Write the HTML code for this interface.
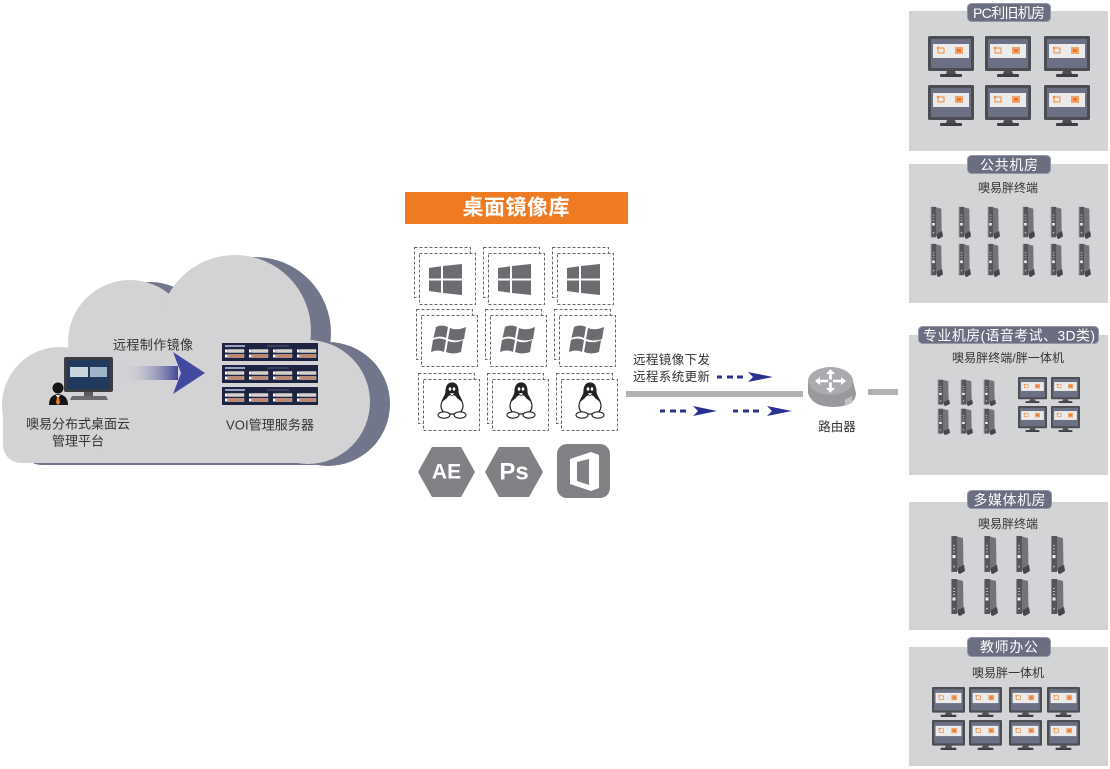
<!DOCTYPE html>
<html><head><meta charset="utf-8"><style>
html,body{margin:0;padding:0;background:#fff;}
svg{display:block;}
text{font-family:"Liberation Sans","Noto Sans CJK SC",sans-serif;}
</style></head><body>
<svg width="1110" height="769" viewBox="0 0 1110 769" xmlns="http://www.w3.org/2000/svg">
<defs>
  <g id="cloud">
    <circle cx="60" cy="405" r="58"/>
    <circle cx="130" cy="342" r="62"/>
    <circle cx="235" cy="331" r="76"/>
    <circle cx="308" cy="402" r="62"/>
    <rect x="70" y="360" width="235" height="103"/>
    <rect x="3" y="380" width="100" height="83" rx="18"/>
  </g>
  <symbol id="mon" viewBox="0 0 46 41" preserveAspectRatio="none">
    <rect x="0" y="0" width="46" height="35" rx="1.5" fill="#4c4d52"/>
    <rect x="3" y="3" width="40" height="29" fill="#6c7084"/>
    <rect x="5" y="8" width="36" height="14" fill="#ebebeb"/>
    <rect x="10" y="12" width="6" height="5" fill="none" stroke="#ef8a3c" stroke-width="1"/>
    <circle cx="10" cy="12" r="1.2" fill="#ef8a3c"/>
    <rect x="27" y="11" width="8" height="7" fill="#f0a36a"/>
    <rect x="29" y="13" width="4" height="3" fill="#e9772c"/>
    <polygon points="19,35 27,35 28,38 18,38" fill="#4c4d52"/>
    <rect x="12" y="38" width="22" height="3" rx="1" fill="#3e3f44"/>
  </symbol>
  <symbol id="tower" viewBox="0 0 15 38" preserveAspectRatio="none">
    <polygon points="5,1 13,3 13.5,32 5,36" fill="#737478"/>
    <rect x="1" y="1" width="6" height="35" fill="#55565a"/>
    <rect x="1" y="1" width="1" height="35" fill="#8a8b8f"/>
    <polygon points="8,32 14,29 15,35 10,38 8,37" fill="#46474b"/>
    <rect x="3" y="10" width="2" height="1" fill="#bbb"/>
    <rect x="3" y="13" width="2" height="1" fill="#bbb"/>
    <rect x="3" y="16" width="2" height="1" fill="#bbb"/>
    <rect x="2.5" y="19.5" width="3" height="3" fill="#eee"/>
    <rect x="3.3" y="30" width="1.5" height="1.5" fill="#ccc"/>
  </symbol>
  <g id="rack">
    <rect x="0" y="0" width="96" height="18" fill="#1e2342"/>
    <rect x="3" y="2" width="20" height="2" fill="#9aa0c0"/>
    <rect x="45" y="2" width="22" height="2" fill="#3a3f5c"/>
    <g id="bays">
      <rect x="3" y="6.5" width="2.5" height="3" fill="#fff"/>
      <rect x="6" y="6.5" width="16" height="3" fill="#d8cfc9" stroke="#eee" stroke-width="0.4"/>
      <rect x="3" y="11.5" width="2.5" height="3" fill="#fff"/>
      <rect x="6" y="11.5" width="16" height="3" fill="#c9835e" stroke="#eee" stroke-width="0.4"/>
    </g>
    <use href="#bays" x="24"/>
    <use href="#bays" x="48"/>
    <use href="#bays" x="72"/>
  </g>
  <g id="tile">
    <rect x="0.5" y="0.5" width="56" height="50" fill="#fff" stroke="#666" stroke-width="1" stroke-dasharray="3,2"/>
    <rect x="5.5" y="6.5" width="56" height="51" fill="#fff" stroke="#666" stroke-width="1" stroke-dasharray="3,2"/>
  </g>
  <g id="win10">
    <polygon points="0,4 12,2.3 12,14.5 0,14.5" fill="#6b6c70"/>
    <polygon points="14,2 33,0 33,14.5 14,14.5" fill="#6b6c70"/>
    <polygon points="0,16.5 12,16.5 12,28.7 0,27" fill="#6b6c70"/>
    <polygon points="14,16.5 33,16.5 33,31 14,29" fill="#6b6c70"/>
  </g>
  <g id="win7" fill="#6b6c70">
    <path d="M4,2 Q10,-1 16,2 L14,13 Q8,10 1.5,13 Z"/>
    <path d="M18,3 Q25,6 34,2 L32,14 Q24,17 16,14 Z"/>
    <path d="M1,15 Q7,12 14,15 L12,27 Q6,24 -1,27 Z"/>
    <path d="M16,16 Q23,19 31,15 L29,27 Q21,30 14,27 Z"/>
  </g>
  <g id="tux">
    <path d="M0,-17 C-5,-17 -6,-12 -6,-8 C-6,-4 -11,0 -11,6 C-11,10 -8,13 -6,14 L6,14 C8,13 11,10 11,6 C11,0 6,-4 6,-8 C6,-12 5,-17 0,-17 Z" fill="#fff" stroke="#222" stroke-width="1.2"/>
    <path d="M0,-17 C-5,-17 -6,-12 -6,-8 C-6,-5 -8,-2 -10,2 L-5,-2 C-3,-6 3,-6 5,-2 L10,2 C8,-2 6,-5 6,-8 C6,-12 5,-17 0,-17 Z" fill="#222"/>
    <ellipse cx="-2" cy="-11" rx="1.3" ry="1.8" fill="#fff"/>
    <ellipse cx="2" cy="-11" rx="1.3" ry="1.8" fill="#fff"/>
    <path d="M-3,-7 L3,-7 L0,-4 Z" fill="#fff" stroke="#222" stroke-width="0.6"/>
    <ellipse cx="-8" cy="15" rx="6" ry="3.2" fill="#fff" stroke="#222" stroke-width="1.1"/>
    <ellipse cx="8" cy="15" rx="6" ry="3.2" fill="#fff" stroke="#222" stroke-width="1.1"/>
  </g>
  <linearGradient id="ag" x1="0" x2="1" y1="0" y2="0">
    <stop offset="0" stop-color="#d3d3d6" stop-opacity="0"/>
    <stop offset="1" stop-color="#434895"/>
  </linearGradient>
</defs>

<!-- Cloud -->
<use href="#cloud" x="20" y="2" fill="#72768a"/>
<use href="#cloud" fill="#d3d3d5"/>

<!-- management monitor -->
<rect x="64" y="357" width="49" height="35" rx="2" fill="#3c3d42"/>
<rect x="67" y="360" width="43" height="29" fill="#1f3a5c"/>
<rect x="70" y="367" width="18" height="10" fill="#c9d4de"/>
<rect x="90" y="367" width="17" height="10" fill="#9fb4c8"/>
<rect x="84" y="392" width="9" height="4" fill="#5a5b60"/>
<polygon points="72,396 106,396 108,400 70,400" fill="#6a6b70"/>
<circle cx="58" cy="388" r="5.5" fill="#151515"/>
<path d="M49,405 Q49,395 58,394 Q68,395 68,405 Z" fill="#151515"/>
<polygon points="55.5,395 60.5,395 58,398" fill="#eee"/>
<polygon points="57,397 59,397 60,403 58,405 56,403" fill="#f07d1f"/>

<!-- gradient arrow -->
<rect x="122" y="366" width="56" height="14" fill="url(#ag)"/>
<polygon points="173,352 205,373 173,394 181,373" fill="#4449a0"/>
<text x="153" y="345" font-size="13" fill="#333" text-anchor="middle" dominant-baseline="central" textLength="80">远程制作镜像</text>

<!-- servers -->
<use href="#rack" x="222" y="343"/>
<use href="#rack" x="222" y="365"/>
<use href="#rack" x="222" y="387"/>
<text x="270" y="425" font-size="13" fill="#333" text-anchor="middle" dominant-baseline="central" textLength="88">VOI管理服务器</text>
<text x="78" y="424" font-size="13" fill="#333" text-anchor="middle" dominant-baseline="central" textLength="104">噢易分布式桌面云</text>
<text x="78" y="441" font-size="13" fill="#333" text-anchor="middle" dominant-baseline="central" textLength="52">管理平台</text>

<!-- image library -->
<rect x="405" y="192" width="223" height="32" fill="#ee7a22"/>
<text x="516" y="208" font-size="21" font-weight="bold" fill="#fff" text-anchor="middle" dominant-baseline="central" textLength="107">桌面镜像库</text>

<use href="#tile" x="414" y="247"/>
<use href="#tile" x="483" y="247"/>
<use href="#tile" x="552" y="247"/>
<use href="#tile" x="416" y="309"/>
<use href="#tile" x="485" y="309"/>
<use href="#tile" x="554" y="309"/>
<use href="#tile" x="418" y="373"/>
<use href="#tile" x="487" y="373"/>
<use href="#tile" x="556" y="373"/>

<use href="#win10" x="429" y="264"/>
<use href="#win10" x="498" y="264"/>
<use href="#win10" x="567" y="264"/>
<use href="#win7" x="432" y="325"/>
<use href="#win7" x="501" y="325"/>
<use href="#win7" x="570" y="325"/>
<use href="#tux" x="452" y="400"/>
<use href="#tux" x="521" y="400"/>
<use href="#tux" x="590" y="400"/>

<!-- app icons -->
<polygon points="418,472 432,447 461,447 475,472 461,497 432,497" fill="#808184"/>
<text x="446.5" y="472" font-size="21" font-weight="bold" fill="#fff" text-anchor="middle" dominant-baseline="central">AE</text>
<polygon points="485,472 499,447 529,447 543,472 529,497 499,497" fill="#808184"/>
<text x="514" y="472" font-size="24" font-weight="bold" fill="#fff" text-anchor="middle" dominant-baseline="central">Ps</text>
<rect x="557" y="444" width="53" height="54" rx="10" fill="#808184"/>
<polygon points="570,459 591,452 599,455 599,488 591,491 570,484" fill="#fff"/>
<polygon points="577,462 589,459 589,485 577,481" fill="#808184"/>

<!-- connectors -->
<rect x="626" y="391" width="177" height="6" fill="#b1b2b4"/>
<rect x="868" y="389" width="30" height="6" fill="#b1b2b4"/>
<text x="633" y="360" font-size="12.5" fill="#333" dominant-baseline="central" textLength="77">远程镜像下发</text>
<text x="633" y="377" font-size="12.5" fill="#333" dominant-baseline="central" textLength="77">远程系统更新</text>
<g fill="#2b3190">
  <rect x="717" y="375.5" width="5" height="3"/><rect x="727" y="375.5" width="6" height="3"/><rect x="737" y="375.5" width="6" height="3"/>
  <polygon points="748,372 773,377 748,382 753,377"/>
  <rect x="660" y="409.5" width="5" height="3"/><rect x="670" y="409.5" width="6" height="3"/><rect x="680" y="409.5" width="6" height="3"/>
  <polygon points="693,406 717,411 693,416 698,411"/>
  <rect x="733" y="409.5" width="5" height="3"/><rect x="743" y="409.5" width="6" height="3"/><rect x="753" y="409.5" width="6" height="3"/>
  <polygon points="767,406 792,411 767,416 772,411"/>
</g>

<!-- router -->
<path d="M808,381 L808,393 Q812,407 834,407 Q856,406 856,393 L853,381 Z" fill="#97999c"/>
<path d="M845,400 L852,396 L852,403 L845,406 Z" fill="#c2c3c5"/>
<ellipse cx="830.5" cy="381" rx="22.5" ry="14" fill="#a9abae"/>
<g fill="#fff">
  <polygon points="830.5,369 826,374 829,374 829,379.5 831.9,379.5 831.9,374 835,374"/>
  <polygon points="830.5,393 826,388 829,388 829,382.5 831.9,382.5 831.9,388 835,388"/>
  <polygon points="815,381 820,377 820,379.7 828,379.7 828,382.3 820,382.3 820,385"/>
  <polygon points="846,381 841,377 841,379.7 833,379.7 833,382.3 841,382.3 841,385"/>
</g>
<text x="837" y="427" font-size="12.5" fill="#333" text-anchor="middle" dominant-baseline="central">路由器</text>

<!-- rooms -->
<g fill="#d3d4d6">
  <rect x="909" y="11" width="199" height="140"/>
  <rect x="909" y="164" width="199" height="139"/>
  <rect x="909" y="335" width="199" height="140"/>
  <rect x="909" y="502" width="199" height="128"/>
  <rect x="909" y="647" width="199" height="119"/>
</g>
<g fill="#6b6e80" stroke="#9597a6" stroke-width="1">
  <rect x="967.5" y="3.5" width="83" height="18" rx="4"/>
  <rect x="967.5" y="155.5" width="83" height="18" rx="4"/>
  <rect x="918.5" y="326.5" width="180" height="17" rx="4"/>
  <rect x="967.5" y="490.5" width="84" height="18" rx="4"/>
  <rect x="967.5" y="637.5" width="83" height="19" rx="4"/>
</g>
<g fill="#fff" font-size="14" text-anchor="middle" dominant-baseline="central">
  <text x="1009" y="13" textLength="72">PC利旧机房</text>
  <text x="1009" y="165" textLength="58">公共机房</text>
  <text x="1009" y="335.5" textLength="172">专业机房(语音考试、3D类)</text>
  <text x="1009.5" y="500" textLength="72">多媒体机房</text>
  <text x="1009" y="647" textLength="58">教师办公</text>
</g>
<g fill="#333" font-size="12" text-anchor="middle" dominant-baseline="central">
  <text x="1008" y="188" textLength="60">噢易胖终端</text>
  <text x="1008" y="358" textLength="112">噢易胖终端/胖一体机</text>
  <text x="1008" y="524" textLength="60">噢易胖终端</text>
  <text x="1008" y="673" textLength="72">噢易胖一体机</text>
</g>

<!-- room 1 monitors -->
<use href="#mon" x="928" y="36" width="46" height="41"/>
<use href="#mon" x="985" y="36" width="46" height="41"/>
<use href="#mon" x="1044" y="36" width="46" height="41"/>
<use href="#mon" x="928" y="85" width="46" height="41"/>
<use href="#mon" x="985" y="85" width="46" height="41"/>
<use href="#mon" x="1044" y="85" width="46" height="41"/>

<!-- room 2 towers -->
<use href="#tower" x="930" y="206" width="13" height="33"/>
<use href="#tower" x="958" y="206" width="13" height="33"/>
<use href="#tower" x="987" y="206" width="13" height="33"/>
<use href="#tower" x="1022" y="206" width="13" height="33"/>
<use href="#tower" x="1050" y="206" width="13" height="33"/>
<use href="#tower" x="1078" y="206" width="13" height="33"/>
<use href="#tower" x="930" y="243" width="13" height="34"/>
<use href="#tower" x="958" y="243" width="13" height="34"/>
<use href="#tower" x="987" y="243" width="13" height="34"/>
<use href="#tower" x="1022" y="243" width="13" height="34"/>
<use href="#tower" x="1050" y="243" width="13" height="34"/>
<use href="#tower" x="1078" y="243" width="13" height="34"/>

<!-- room 3 -->
<use href="#tower" x="937" y="379" width="13" height="27"/>
<use href="#tower" x="960" y="379" width="13" height="27"/>
<use href="#tower" x="983" y="379" width="13" height="27"/>
<use href="#tower" x="937" y="408" width="13" height="27"/>
<use href="#tower" x="960" y="408" width="13" height="27"/>
<use href="#tower" x="983" y="408" width="13" height="27"/>
<use href="#mon" x="1018" y="377" width="29" height="26"/>
<use href="#mon" x="1051" y="377" width="29" height="26"/>
<use href="#mon" x="1018" y="406" width="29" height="26"/>
<use href="#mon" x="1051" y="406" width="29" height="26"/>

<!-- room 4 towers -->
<use href="#tower" x="950" y="535" width="15" height="39"/>
<use href="#tower" x="983" y="535" width="15" height="39"/>
<use href="#tower" x="1015" y="535" width="15" height="39"/>
<use href="#tower" x="1050" y="535" width="15" height="39"/>
<use href="#tower" x="950" y="578" width="15" height="38"/>
<use href="#tower" x="983" y="578" width="15" height="38"/>
<use href="#tower" x="1015" y="578" width="15" height="38"/>
<use href="#tower" x="1050" y="578" width="15" height="38"/>

<!-- room 5 monitors -->
<use href="#mon" x="932" y="687" width="33" height="30"/>
<use href="#mon" x="969" y="687" width="33" height="30"/>
<use href="#mon" x="1009" y="687" width="33" height="30"/>
<use href="#mon" x="1047" y="687" width="33" height="30"/>
<use href="#mon" x="932" y="720" width="33" height="30"/>
<use href="#mon" x="969" y="720" width="33" height="30"/>
<use href="#mon" x="1009" y="720" width="33" height="30"/>
<use href="#mon" x="1047" y="720" width="33" height="30"/>
</svg>
</body></html>
